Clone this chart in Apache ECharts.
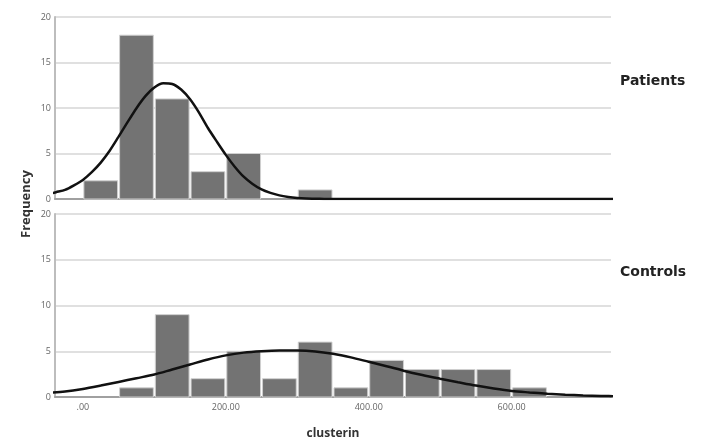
<!DOCTYPE html>
<html><head><meta charset="utf-8">
<script src="https://cdn.jsdelivr.net/npm/echarts@6/dist/echarts.min.js"></script>
<style>html,body{margin:0;padding:0;background:#fff}#c{width:707px;height:447px}</style>
</head><body><div id="c"></div>
<script>
// Histogram bins (clusterin), bin width 50
const binStarts = [0, 50, 100, 150, 200, 250, 300, 350, 400, 450, 500, 550, 600];
const binWidth = 50;
const patientsCounts = [2, 18, 11, 3, 5, 0, 1, 0, 0, 0, 0, 0, 0];
const controlsCounts = [0, 1, 9, 2, 5, 2, 6, 1, 4, 3, 3, 3, 1];
// Fitted normal curves
const patientsCurveX = [-50,-37.5,-25,-12.5,0,12.5,25,37.5,50,62.5,75,87.5,100,112.5,125,137.5,150,162.5,175,187.5,200,212.5,225,237.5,250,262.5,275,287.5,300,312.5,325,337.5,350,400,500,600,700,750];
const patientsCurve = [0.5,0.75,1.0,1.5,2.1,2.95,4.0,5.3,6.85,8.44,9.98,11.3,12.25,12.71,12.64,12.03,10.96,9.5,7.8,6.3,4.85,3.55,2.45,1.65,1.05,0.67,0.4,0.23,0.12,0.06,0.03,0.01,0,0,0,0,0,0];
const controlsCurveX = [-50,-25,0,25,50,75,100,125,150,175,200,225,250,275,300,325,350,375,400,425,450,475,500,525,550,575,600,625,650,675,700,725,750];
const controlsCurve = [0.45,0.6,0.88,1.25,1.65,2.05,2.45,3.0,3.55,4.1,4.55,4.85,5.0,5.07,5.07,4.98,4.72,4.33,3.85,3.37,2.85,2.4,2.0,1.62,1.25,0.93,0.66,0.5,0.36,0.25,0.17,0.12,0.08];
const xTickValues = [0, 200, 400, 600];
const xTickLabels = ['.00', '200.00', '400.00', '600.00'];
const yTickValues = [0, 5, 10, 15, 20];
const panelNames = ['Patients', 'Controls'];

const chart = echarts.init(document.getElementById('c'));
function histData(counts){ return binStarts.map((s,i)=>[s, s+binWidth, counts[i]]).filter(d=>d[2]>0); }
function renderBar(params, api){
  const p0 = api.coord([api.value(0), 0]);
  const p1 = api.coord([api.value(1), api.value(2)]);
  return {type:'rect', shape:{x:p0[0]+1, y:p1[1], width:p1[0]-p0[0]-2, height:p0[1]-p1[1]},
    style:{fill:'#737373', stroke:'#d0d0d0', lineWidth:1}};
}
const labelMap = {}; xTickValues.forEach((v,i)=>labelMap[v]=xTickLabels[i]);
function xAxis(idx, showLabels){
  return {type:'value', gridIndex:idx, min:-39, max:739,
    axisLine:{show:true, onZero:false, lineStyle:{color:'#a0a0a0', width:2}},
    axisTick:{show:false}, splitLine:{show:false},
    axisLabel:{show:showLabels, customValues:xTickValues, formatter:v=>labelMap[v]!==undefined?labelMap[v]:'',
      color:'#666', fontSize:9, fontFamily:'Open Sans', margin:6},
    name: showLabels ? 'clusterin' : '', nameLocation:'middle', nameGap:31,
    nameTextStyle:{fontSize:12, fontWeight:'bold', color:'#333', fontFamily:'Open Sans'}};
}
function yAxis(idx){
  return {type:'value', gridIndex:idx, min:0, max:20, interval:5,
    axisLine:{show:true, onZero:false, lineStyle:{color:'#bdbdbd', width:2}}, axisTick:{show:false},
    splitLine:{show:true, lineStyle:{color:'#e0e0e0', width:2}},
    axisLabel:{color:'#666', fontSize:9, fontFamily:'Open Sans', margin:4,
      customValues:yTickValues}};
}
chart.setOption({
  animation:false,
  grid:[{left:55, right:96, top:17, height:182},{left:55, right:96, top:214, height:183}],
  xAxis:[xAxis(0,false), xAxis(1,true)],
  yAxis:[yAxis(0), yAxis(1)],
  graphic:[
    {type:'text', left:620, top:74, style:{text:panelNames[0], font:'bold 14px "DejaVu Sans"', fill:'#222'}},
    {type:'text', left:620, top:265, style:{text:panelNames[1], font:'bold 14px "DejaVu Sans"', fill:'#222'}},
    {type:'text', x:20, y:238, rotation:Math.PI/2, style:{text:'Frequency', font:'bold 13px "Open Sans"', fill:'#333'}}
  ],
  series:[
    {type:'custom', xAxisIndex:0, yAxisIndex:0, renderItem:renderBar, data:histData(patientsCounts), encode:{x:[0,1], y:2}},
    {type:'custom', xAxisIndex:1, yAxisIndex:1, renderItem:renderBar, data:histData(controlsCounts), encode:{x:[0,1], y:2}},
    {type:'line', xAxisIndex:0, yAxisIndex:0, data:patientsCurveX.map((x,i)=>[x, patientsCurve[i]]), smooth:0.25, showSymbol:false, clip:true,
      lineStyle:{color:'#111', width:2.5}, z:5},
    {type:'line', xAxisIndex:1, yAxisIndex:1, data:controlsCurveX.map((x,i)=>[x, controlsCurve[i]]), smooth:0.3, showSymbol:false, clip:true,
      lineStyle:{color:'#111', width:2.5}, z:5}
  ]
});
</script></body></html>
